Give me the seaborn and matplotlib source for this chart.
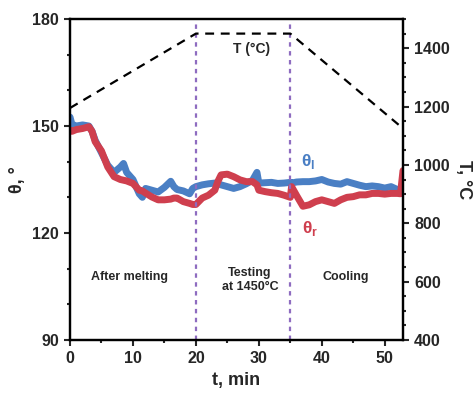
import pandas as pd
import seaborn as sns
import matplotlib.pyplot as plt
from matplotlib.ticker import MultipleLocator

# contact angle data (t in min, angles in degrees)
time = [0, 0.3, 1, 2, 3, 3.5, 4, 5, 6, 7, 8, 8.5, 9, 10, 11, 11.5, 12, 13, 14, 15,
        16, 16.5, 17, 18, 19, 19.5, 20, 21, 22, 23, 23.5, 24, 25, 26, 27, 28, 29, 29.7,
        30, 31, 32, 33, 34, 35, 35.2, 36, 37, 38, 39, 40, 41, 42, 43, 44, 45, 46, 47,
        48, 49, 50, 51, 52, 52.5, 52.9]
theta_l = [152.5, 150.5, 150.0, 150.3, 150.0, 148.5, 146.0, 142.5, 139.0, 137.0, 138.5,
           139.5, 137.0, 135.0, 131.0, 130.0, 132.5, 132.0, 131.5, 132.8, 134.5, 133.0,
           132.2, 131.8, 131.0, 132.5, 133.0, 133.5, 133.8, 134.0, 133.8, 133.5, 133.0,
           132.5, 133.0, 133.8, 134.8, 137.0, 134.0, 134.1, 134.2, 133.9, 134.0, 134.2,
           134.0, 134.3, 134.4, 134.4, 134.6, 135.0, 134.3, 133.9, 133.7, 134.4, 133.9,
           133.4, 133.0, 133.2, 133.0, 132.6, 133.0, 132.2, 132.0, 133.0]
theta_r = [148.8, 148.5, 149.0, 149.3, 149.8, 148.5, 145.6, 143.0, 138.5, 135.8, 135.0,
           134.8, 134.6, 133.9, 132.0, 131.8, 131.2, 130.1, 129.3, 129.3, 129.5, 129.8,
           129.8, 128.8, 128.3, 128.0, 128.0, 129.8, 130.6, 132.0, 134.5, 136.3, 136.5,
           135.8, 134.9, 134.4, 134.4, 133.5, 132.0, 131.6, 131.3, 131.1, 130.6, 130.0,
           133.0, 130.5, 127.5, 127.9, 128.8, 129.3, 128.8, 128.3, 129.3, 130.0, 130.2,
           130.7, 130.7, 131.1, 131.1, 130.9, 131.1, 131.1, 131.0, 137.5]

# furnace temperature program
temp_time = [0, 20, 35, 52.9]
temp_c = [1195, 1450, 1450, 1125]

stage_bounds = [20, 35]

df = pd.DataFrame({'t': time, 'l': theta_l, 'r': theta_r})
df_temp = pd.DataFrame({'t': temp_time, 'T': temp_c})

sns.set_style('ticks')
plt.rcParams['font.family'] = ['Liberation Sans', 'DejaVu Sans']
plt.rcParams['font.weight'] = 'bold'
plt.rcParams['mathtext.fontset'] = 'custom'
plt.rcParams['mathtext.rm'] = 'Liberation Sans'

fig = plt.figure(figsize=(4.73, 3.96), dpi=100)
ax = fig.add_axes([0.148, 0.1414, 0.704, 0.8106])
ax2 = ax.twinx()

blue = '#4a7fc4'
red = '#cf3f4e'
sns.lineplot(data=df, x='t', y='l', ax=ax, color=blue, lw=5)
sns.lineplot(data=df, x='t', y='r', ax=ax, color=red, lw=5)
for x in stage_bounds:
    ax.axvline(x, color='#8e6cc0', lw=1.6, ls=(0, (2, 2)))

sns.lineplot(data=df_temp, x='t', y='T', ax=ax2, color='black', lw=1.6)
ax2.lines[0].set_dashes((4, 3))

ax.set_xlim(0, 52.9)
ax.set_ylim(90, 180)
ax2.set_ylim(400, 1500)
ax.xaxis.set_major_locator(MultipleLocator(10))
ax.xaxis.set_minor_locator(MultipleLocator(5))
ax.yaxis.set_major_locator(MultipleLocator(30))
ax.yaxis.set_minor_locator(MultipleLocator(10))
ax2.yaxis.set_major_locator(MultipleLocator(200))
ax2.yaxis.set_minor_locator(MultipleLocator(50))

for a in (ax, ax2):
    a.tick_params(which='major', direction='out', length=4, width=1.5, labelsize=11.5, pad=4)
    a.tick_params(which='minor', direction='out', length=2.5, width=1.5)
    for s in a.spines.values():
        s.set_linewidth(1.6)
        s.set_color('black')

ax.set_xlabel('t, min', fontsize=13, fontweight='bold', labelpad=4)
ax.set_ylabel('θ, °', fontsize=13, fontweight='bold', labelpad=4)
ax2.set_ylabel('T, °C', fontsize=13, fontweight='bold', rotation=270, labelpad=16)

ax2.text(28.9, 1397, 'T (°C)', ha='center', va='center', fontsize=10, fontweight='bold')
ax.text(37.8, 140.0, r'θ$_\mathregular{l}$', color=blue, ha='center', va='center', fontsize=12.5)
ax.text(38.1, 121.4, r'θ$_\mathregular{r}$', color=red, ha='center', va='center', fontsize=12.5)
ax.text(9.5, 107.7, 'After melting', ha='center', va='center', fontsize=9, fontweight='bold')
ax.text(28.6, 106.8, 'Testing\nat 1450°C', ha='center', va='center', fontsize=9,
        fontweight='bold', linespacing=1.2)
ax.text(43.8, 107.7, 'Cooling', ha='center', va='center', fontsize=9, fontweight='bold')

fig.savefig('out.png', dpi=100)
